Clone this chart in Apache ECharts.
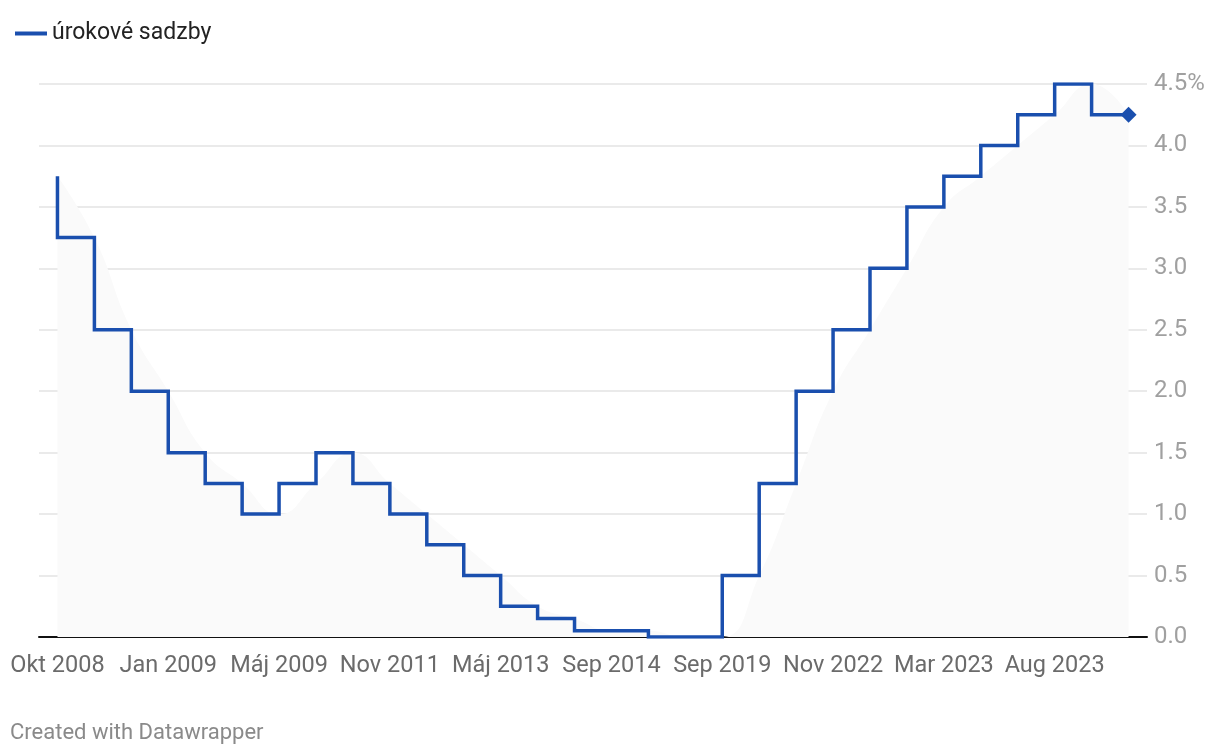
<!DOCTYPE html>
<html>
<head>
<meta charset="utf-8">
<script src="https://cdn.jsdelivr.net/npm/echarts@6/dist/echarts.min.js"></script>
<style>
html,body{margin:0;padding:0;background:#fff;}
#chart{width:1220px;height:754px;}
</style>
</head>
<body>
<div id="chart"></div>
<script>
const categories = ['Okt 2008','Nov 2008','Dec 2008','Jan 2009','Mar 2009','Apr 2009','Máj 2009','Apr 2011','Júl 2011','Nov 2011','Dec 2011','Júl 2012','Máj 2013','Nov 2013','Jún 2014','Sep 2014','Dec 2015','Mar 2016','Sep 2019','Júl 2022','Sep 2022','Nov 2022','Dec 2022','Feb 2023','Mar 2023','Máj 2023','Jún 2023','Aug 2023','Sep 2023','Jún 2024'];
const rates = [3.75,3.25,2.5,2.0,1.5,1.25,1.0,1.25,1.5,1.25,1.0,0.75,0.5,0.25,0.15,0.05,0.05,0.0,0.0,0.5,1.25,2.0,2.5,3.0,3.5,3.75,4.0,4.25,4.5,4.25];
const yTicks = [0,0.5,1,1.5,2,2.5,3,3.5,4,4.5];
const seriesName = 'úrokové sadzby';

const FONT = 'Roboto, sans-serif';
const BLUE = '#1a4fae';

const chart = echarts.init(document.getElementById('chart'));
const stepData = rates.map((v, i) => i === rates.length - 1
  ? { value: v, symbol: 'diamond', symbolSize: 16, itemStyle: { color: BLUE } }
  : { value: v, symbol: 'none' });

chart.setOption({
  animation: false,
  textStyle: { fontFamily: FONT },
  legend: {
    data: [{ name: seriesName, icon: 'rect' }],
    left: 10, top: 17,
    itemWidth: 32, itemHeight: 4, itemGap: 6,
    textStyle: { fontSize: 23, color: '#222', fontFamily: FONT }
  },
  grid: { left: 39, right: 73, top: 84, bottom: 117 },
  xAxis: {
    type: 'category',
    data: categories,
    boundaryGap: true,
    axisLine: { lineStyle: { color: '#111', width: 2 } },
    axisTick: { show: false },
    axisLabel: { interval: 2, color: '#6b6b6b', fontSize: 23.5, margin: 17, fontFamily: FONT },
    splitLine: { show: false }
  },
  yAxis: {
    type: 'value',
    position: 'right',
    min: yTicks[0], max: yTicks[yTicks.length - 1], interval: 0.5,
    axisLine: { show: false },
    axisTick: { show: false },
    axisLabel: {
      color: '#a0a0a0', fontSize: 24, margin: 7, fontFamily: FONT, padding: [5, 0, 0, 0],
      formatter: v => v === yTicks[yTicks.length - 1] ? v.toFixed(1) + '%' : v.toFixed(1)
    },
    splitLine: { lineStyle: { color: '#e3e3e3', width: 1.5 } }
  },
  series: [
    {
      name: 'area',
      type: 'line',
      data: rates,
      smooth: true,
      symbol: 'none',
      lineStyle: { width: 0, opacity: 0 },
      areaStyle: { color: '#fafafa', opacity: 1 },
      silent: true,
      z: 1
    },
    {
      name: seriesName,
      type: 'line',
      step: 'start',
      data: stepData,
      showSymbol: true,
      lineStyle: { color: BLUE, width: 3.5, join: 'miter' },
      itemStyle: { color: BLUE },
      z: 5
    }
  ],
  graphic: [{
    type: 'text', left: 10, top: 722,
    style: { text: 'Created with Datawrapper', fill: '#8a8a8a', fontSize: 22, fontFamily: FONT }
  }]
});
</script>
</body>
</html>
